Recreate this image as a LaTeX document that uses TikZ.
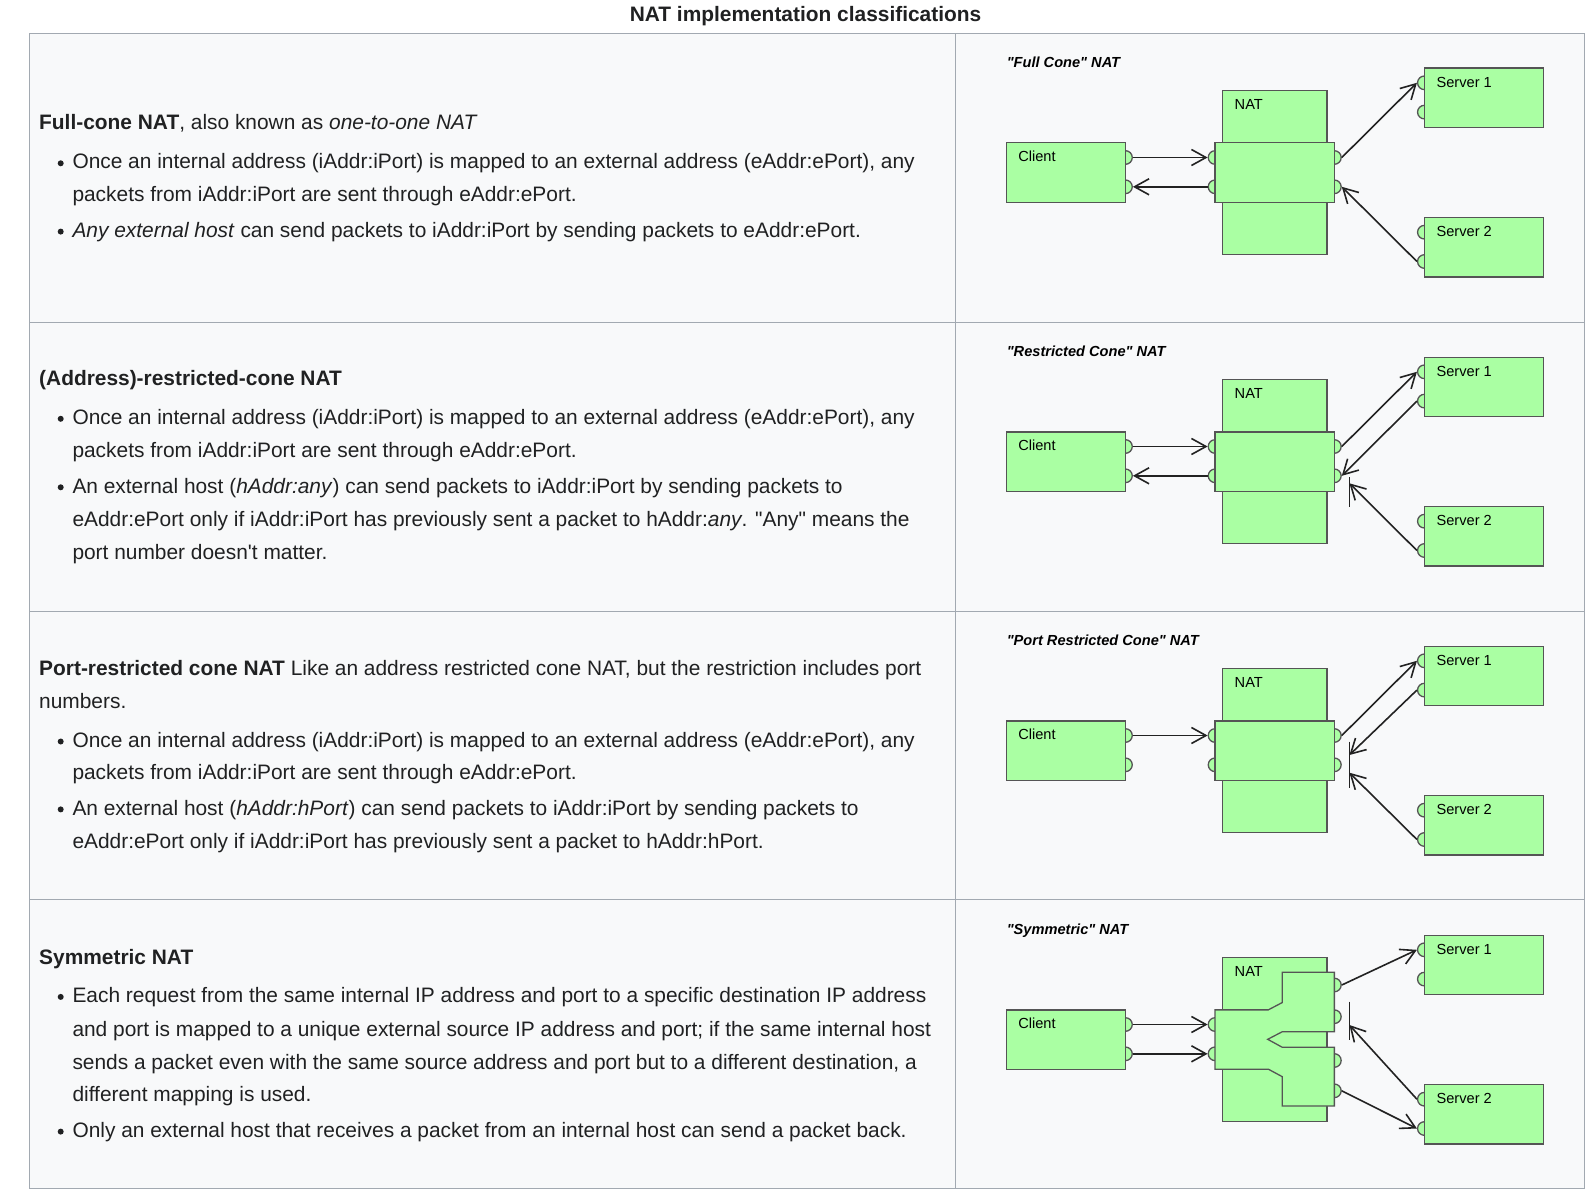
\documentclass[tikz,border=0pt]{standalone}
\usepackage{fontspec}
\newfontfamily\wsans{Liberation Sans}
\usetikzlibrary{arrows.meta}
\definecolor{tx}{HTML}{202122}
\definecolor{cellbg}{HTML}{F8F9FA}
\definecolor{tabline}{HTML}{A2A9B1}
\definecolor{boxg}{HTML}{AAFFA3}
\definecolor{boxl}{HTML}{555555}
\definecolor{arrc}{HTML}{222222}
\tikzset{
  txt/.style={inner sep=0pt, anchor=base west, text=tx, font=\wsans\fontsize{20.9}{25}\selectfont},
  bul/.style={circle, fill=tx, inner sep=0pt, minimum size=6pt},
  dtitle/.style={inner sep=0pt, anchor=base west, font=\wsans\fontsize{14.6}{17}\selectfont\bfseries\itshape},
  dlbl/.style={inner sep=0pt, anchor=base west, font=\wsans\fontsize{14.6}{17}\selectfont},
  gbox/.style={draw=boxl, fill=boxg, line width=1.3pt, inner sep=0pt, minimum width=119.3pt, minimum height=59.3pt},
  nattall/.style={gbox, minimum width=104.7pt, minimum height=163.6pt},
  boxst/.style={draw=boxl, fill=boxg, line width=1.3pt},
  port/.style={circle, draw=boxl, fill=boxg, line width=1.3pt, inner sep=0pt, minimum size=13.6pt},
  conn/.style={draw=arrc, line width=1.6pt},
  arr/.style={conn, -{Straight Barb[length=14.5pt,width=16pt]}},
  tabst/.style={draw=tabline, line width=1pt},
}
\newcommand\natcommon[3]{%
\begin{scope}[yshift=-#2pt]
\node[dtitle] (#1title) at (1006.6,67.5) {#3};
\node[port] (#1cp1) at (1125.45,157.5) {};
\node[port] (#1cp2) at (1125.45,186.8) {};
\node[port] (#1s1p1) at (1424.35,82.8) {};
\node[port] (#1s1p2) at (1424.35,112.1) {};
\node[port] (#1s2p1) at (1424.35,232.2) {};
\node[port] (#1s2p2) at (1424.35,261.5) {};
\node[gbox] (#1client) at (1065.8,172.5) {};
\node[gbox] (#1srv1) at (1484,97.8) {};
\node[gbox] (#1srv2) at (1484,247.2) {};
\node[nattall] (#1nat) at (1274.7,172.5) {};
\node[dlbl] (#1clientl) at (1018.1,161.9) {Client};
\node[dlbl] (#1natl) at (1234.5,109.7) {NAT};
\node[dlbl] (#1srv1l) at (1436.4,87.2) {Server 1};
\node[dlbl] (#1srv2l) at (1436.4,236.6) {Server 2};
\end{scope}}
\newcommand\natmid[2]{%
\begin{scope}[yshift=-#2pt]
\node[port] (#1nl1) at (1215.05,157.5) {};
\node[port] (#1nl2) at (1215.05,186.8) {};
\node[port] (#1nr1) at (1334.35,157.5) {};
\node[port] (#1nr2) at (1334.35,186.8) {};
\node[gbox] (#1natmid) at (1274.7,172.5) {};
\end{scope}}
\begin{document}
\begin{tikzpicture}[x=1pt,y=-1pt]
\useasboundingbox (0,0) rectangle (1589,1201);
\fill[white] (0,0) rectangle (1589,1201);
% table
\fill[cellbg] (29.4,33.4) rectangle (1584,1188.6);
\draw[tabst] (29.4,33.4) rectangle (1584,1188.6);
\draw[tabst] (29.4,322.2) -- (1584,322.2);
\draw[tabst] (29.4,611) -- (1584,611);
\draw[tabst] (29.4,899.8) -- (1584,899.8);
\draw[tabst] (955.6,33.4) -- (955.6,1188.6);
\node[txt, anchor=base, font=\wsans\bfseries\fontsize{20.9}{25}\selectfont] (title) at (805.5,22) {NAT implementation classifications};
% row 1
\node[txt] (h1) at (39,130) {\textbf{Full-cone NAT}, also known as \textit{one-to-one NAT}};
\node[bul] (b1a) at (60.7,163.3) {};
\node[txt] (t1a) at (72.3,169) {Once an internal address (iAddr:iPort) is mapped to an external address (eAddr:ePort), any};
\node[txt] (t1b) at (72.3,201.7) {packets from iAddr:iPort are sent through eAddr:ePort.};
\node[bul] (b1b) at (60.7,231.6) {};
\node[txt] (t1c) at (72.3,237.3) {\textit{Any external host} can send packets to iAddr:iPort by sending packets to eAddr:ePort.};
% row 2
\node[txt] (h2) at (39,385.4) {\textbf{(Address)-restricted-cone NAT}};
\node[bul] (b2a) at (60.7,418.8) {};
\node[txt] (t2a) at (72.3,424.5) {Once an internal address (iAddr:iPort) is mapped to an external address (eAddr:ePort), any};
\node[txt] (t2b) at (72.3,457.6) {packets from iAddr:iPort are sent through eAddr:ePort.};
\node[bul] (b2b) at (60.7,487.3) {};
\node[txt] (t2c) at (72.3,493) {An external host (\textit{hAddr:any}) can send packets to iAddr:iPort by sending packets to};
\node[txt] (t2d) at (72.3,526) {eAddr:ePort only if iAddr:iPort has previously sent a packet to hAddr:\textit{any}. "Any" means the};
\node[txt] (t2e) at (72.3,559) {port number doesn't matter.};
% row 3
\node[txt] (h3a) at (39,675.2) {\textbf{Port-restricted cone NAT} Like an address restricted cone NAT, but the restriction includes port};
\node[txt] (h3b) at (39,708.7) {numbers.};
\node[bul] (b3a) at (60.7,741.5) {};
\node[txt] (t3a) at (72.3,747.2) {Once an internal address (iAddr:iPort) is mapped to an external address (eAddr:ePort), any};
\node[txt] (t3b) at (72.3,779.6) {packets from iAddr:iPort are sent through eAddr:ePort.};
\node[bul] (b3b) at (60.7,809.4) {};
\node[txt] (t3c) at (72.3,815.1) {An external host (\textit{hAddr:hPort}) can send packets to iAddr:iPort by sending packets to};
\node[txt] (t3d) at (72.3,848.5) {eAddr:ePort only if iAddr:iPort has previously sent a packet to hAddr:hPort.};
% row 4
\node[txt] (h4) at (39,964.1) {\textbf{Symmetric NAT}};
\node[bul] (b4a) at (60.7,996.9) {};
\node[txt] (t4a) at (72.3,1002.6) {Each request from the same internal IP address and port to a specific destination IP address};
\node[txt] (t4b) at (72.3,1036) {and port is mapped to a unique external source IP address and port; if the same internal host};
\node[txt] (t4c) at (72.3,1069.4) {sends a packet even with the same source address and port but to a different destination, a};
\node[txt] (t4d) at (72.3,1101.9) {different mapping is used.};
\node[bul] (b4b) at (60.7,1131.6) {};
\node[txt] (t4e) at (72.3,1137.3) {Only an external host that receives a packet from an internal host can send a packet back.};
% diagram 1
\natcommon{a}{0}{"Full Cone" NAT}
\natmid{a}{0}
\draw[arr] (acp1.east) -- (anl1.west);
\draw[arr] (anl2.west) -- (acp2.east);
\draw[arr] (anr1.east) -- (as1p1.west);
\draw[arr] (as2p2.west) -- (anr2.east);
% diagram 2
\natcommon{b}{289}{"Restricted Cone" NAT}
\natmid{b}{289}
\begin{scope}[yshift=-289pt]
\coordinate (bbt) at (1349.4,188);
\coordinate (bbb) at (1349.4,218);
\coordinate (btip) at (1349.4,194.3);
\end{scope}
\draw[arr] (bcp1.east) -- (bnl1.west);
\draw[arr] (bnl2.west) -- (bcp2.east);
\draw[arr] (bnr1.east) -- (bs1p1.west);
\draw[arr] (bs1p2.west) -- (bnr2.east);
\draw[conn] (bbt) -- (bbb);
\draw[arr] (bs2p2.west) -- (btip);
% diagram 3
\natcommon{c}{578}{"Port Restricted Cone" NAT}
\natmid{c}{578}
\begin{scope}[yshift=-578pt]
\coordinate (cbt) at (1349.4,163.7);
\coordinate (cbb) at (1349.4,210.3);
\coordinate (ctip1) at (1349.4,177);
\coordinate (ctip2) at (1349.4,194.7);
\end{scope}
\draw[arr] (ccp1.east) -- (cnl1.west);
\draw[arr] (cnr1.east) -- (cs1p1.west);
\draw[conn] (cbt) -- (cbb);
\draw[arr] (cs1p2.west) -- (ctip1);
\draw[arr] (cs2p2.west) -- (ctip2);
% diagram 4
\natcommon{d}{867}{"Symmetric" NAT}
\begin{scope}[yshift=-867pt]
\node[port] (dnl1) at (1215.05,157.5) {};
\node[port] (dnl2) at (1215.05,186.8) {};
\node[port] (dnr1) at (1334.35,118) {};
\node[port] (dnr2) at (1334.35,149.7) {};
\node[port] (dnr3) at (1334.35,193.5) {};
\node[port] (dnr4) at (1334.35,223.8) {};
\draw[boxst] (1215.05,142.85) -- (1268.3,142.85) -- (1282.3,135.5) -- (1282.3,105.3)
  -- (1334.35,105.3) -- (1334.35,164.7) -- (1282.3,164.7) -- (1267.7,172.3)
  -- (1282.3,180.3) -- (1334.35,180.3) -- (1334.35,239) -- (1282.3,239)
  -- (1282.3,209.7) -- (1268.3,202.15) -- (1215.05,202.15) -- cycle;
\coordinate (dbt) at (1349.4,134.7);
\coordinate (dbb) at (1349.4,173);
\coordinate (dtip) at (1349.4,158);
\end{scope}
\draw[arr] (dcp1.east) -- (dnl1.west);
\draw[arr] (dcp2.east) -- (dnl2.west);
\draw[arr] (dnr1.east) -- (ds1p1.west);
\draw[arr] (dnr4.east) -- (ds2p2.west);
\draw[conn] (dbt) -- (dbb);
\draw[arr] (ds2p1.west) -- (dtip);
\end{tikzpicture}
\end{document}
